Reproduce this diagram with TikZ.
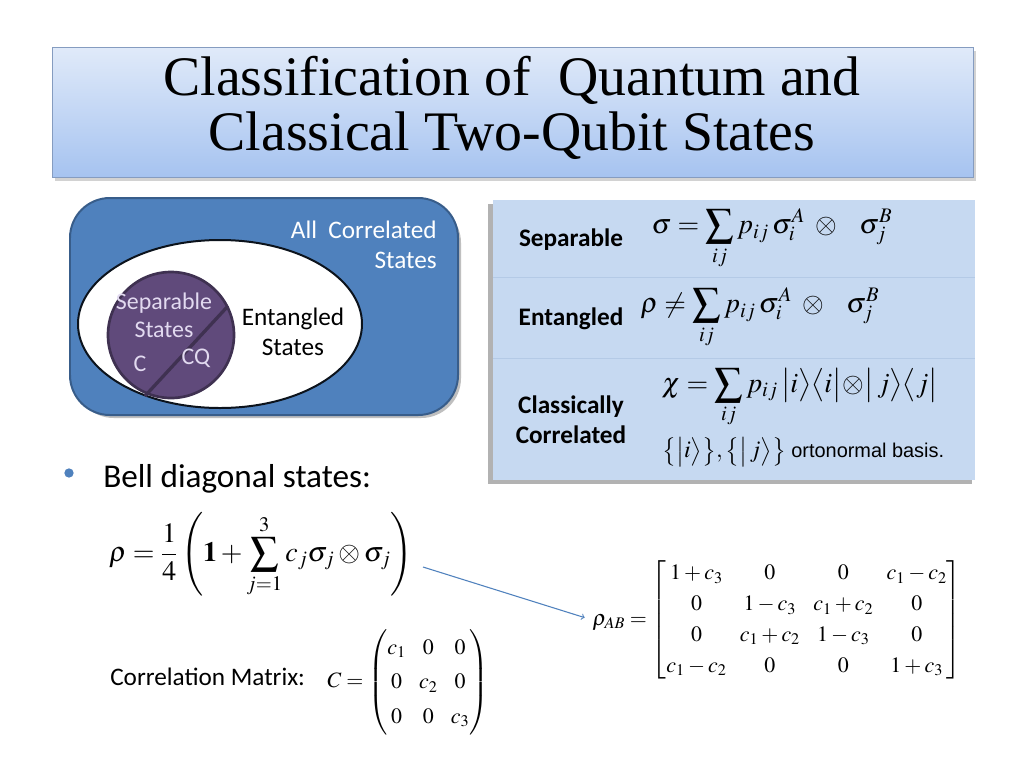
\documentclass[tikz,border=0pt]{standalone}
\usepackage{amsmath}
\usepackage{mathptmx}
\usepackage[no-math]{fontspec}
\setmainfont{Carlito}
\newfontfamily\titlefont{Liberation Serif}
\newfontfamily\basisfont{Liberation Sans}
\usepackage{tikz}
\usetikzlibrary{shadows}
\definecolor{titletop}{HTML}{E0EAF9}
\definecolor{titlebot}{HTML}{A6C3F0}
\definecolor{setblue}{HTML}{4F81BD}
\definecolor{setedge}{HTML}{385D8A}
\definecolor{sepfill}{HTML}{604A7B}
\definecolor{sepedge}{HTML}{3F3151}
\definecolor{septext}{HTML}{E2DAF0}
\definecolor{tablefill}{HTML}{C6D9F1}
\definecolor{tableline}{HTML}{B4CAE6}

\begin{document}
\begin{tikzpicture}[x=0.02646cm, y=-0.02646cm,
	settext/.style={font=\fontsize{19}{22.5}\selectfont, align=center, inner sep=0pt},
	rowlabel/.style={font=\fontsize{19}{22.5}\selectfont\bfseries, align=center, inner sep=0pt},
	formula/.style={font=\fontsize{21}{25}\selectfont, inner sep=0pt},
	arrowline/.style={->, draw=setblue, line width=0.8pt}]
				\useasboundingbox (0,0) rectangle (1024,768);
				\fill[white] (0,0) rectangle (1024,768);
				\shade[top color=titletop, bottom color=titlebot, draw=titlebot!80!black, line width=0.4pt,
					drop shadow={opacity=0.35, shadow xshift=2pt, shadow yshift=-3pt}] (52,47) rectangle (973,177);
				\node[font=\titlefont\fontsize{42}{41}\selectfont, align=center] (title) at (512,108) {Classification of\ \ Quantum and\\Classical Two-Qubit States};
				\fill[black!25] (74,203) [rounded corners=30pt] rectangle (461,418);
				\draw[fill=setblue, draw=setedge, line width=1.5pt, rounded corners=30pt] (70,198) rectangle (458,415);
				\draw[fill=white, draw=black!85!setblue, line width=1.5pt] (220,324) ellipse [x radius=142, y radius=84];
				\draw[fill=sepfill, draw=sepedge, line width=2pt] (171,335) circle [radius=63];
				\draw[sepedge, line width=2.5pt] (145,396) -- (228,306);
				\node[settext, text=white, align=right, anchor=east] (allcor) at (437,245) {All\ \ Correlated\\States};
				\node[settext] (ent) at (293,332) {Entangled\\States};
				\node[settext, text=septext, font=\fontsize{18}{21}\selectfont] (sep) at (164,315) {Separable\\States};
				\node[settext, text=septext, font=\fontsize{18}{21}\selectfont] (cc) at (140,364) {C};
				\node[settext, text=septext, font=\fontsize{18}{21}\selectfont] (cq) at (196,358) {CQ};
				\fill[black!30] (488,204) rectangle (972,484);
				\fill[tablefill] (493,200) rectangle (975,480);
				\draw[tableline] (493,277) -- (975,277);
				\draw[tableline] (493,358) -- (975,358);
				\node[rowlabel] (lsep) at (571,240) {Separable};
				\node[rowlabel] (lent) at (571,319) {Entangled};
				\node[rowlabel] (lcl) at (571,420) {Classically\\Correlated};
				\node[formula] (fsep) at (772,239) {$\displaystyle \sigma=\sum_{ij}p_{ij}\,\sigma_i^A\;\otimes\;\;\;\sigma_j^B$};
				\node[formula] (fent) at (760,318) {$\displaystyle \rho\neq\sum_{ij}p_{ij}\,\sigma_i^A\;\otimes\;\;\;\sigma_j^B$};
				\node[formula] (fcl) at (800,398) {$\displaystyle \chi=\sum_{ij}p_{ij}\,\bigl|i\bigr\rangle\bigl\langle i\bigr|\!\otimes\!\bigl|\,j\bigr\rangle\bigl\langle j\bigr|$};
				\node[formula, font=\fontsize{18}{21}\selectfont, anchor=west] (basis) at (662,452) {$\bigl\{\bigl|i\bigr\rangle\bigr\},\bigl\{\bigl|\,j\bigr\rangle\bigr\}$\ {\basisfont\fontsize{15}{18}\selectfont ortonormal basis.}};
				\node[circle, fill=setblue, inner sep=0pt, minimum size=7] (bullet) at (69,473) {};
				\node[font=\fontsize{25}{30}\selectfont, anchor=base west, inner sep=0pt] (bell) at (103,487) {Bell diagonal states:};
				\node[font=\fontsize{21}{25}\selectfont, inner sep=0pt] (belleq) at (261,555) {$\displaystyle \rho=\frac{1}{4}\left(\mathbf{1}+\sum_{j=1}^{3}c_j\sigma_j\otimes\sigma_j\right)$};
				\node[font=\fontsize{16.5}{19}\selectfont, inner sep=0pt] (rhoab) at (777,620) {$\rho_{AB}=\renewcommand{\arraystretch}{1.22}\begin{bmatrix}1+c_3&0&0&c_1-c_2\\0&1-c_3&c_1+c_2&0\\0&c_1+c_2&1-c_3&0\\c_1-c_2&0&0&1+c_3\end{bmatrix}$};
				\draw[arrowline, shorten >=6pt] (423,567) -- (rhoab.west);
				\node[font=\fontsize{19}{22}\selectfont, anchor=base west, inner sep=0pt] (corr) at (110,685) {Correlation Matrix:};
				\node[font=\fontsize{16.5}{20}\selectfont, inner sep=0pt] (cmat) at (408,682) {$C=\renewcommand{\arraystretch}{1.3}\begin{pmatrix}c_1&0&0\\0&c_2&0\\0&0&c_3\end{pmatrix}$};
			\end{tikzpicture}
\end{document}
